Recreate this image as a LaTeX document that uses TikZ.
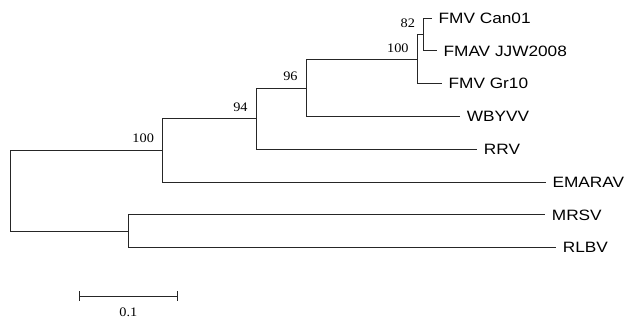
\documentclass[tikz,border=0pt]{standalone}
\usepackage{fontspec}
\setmainfont{Liberation Serif}[FakeStretch=1.1]
\newfontfamily\taxfont{Liberation Sans}[FakeStretch=1.15]
\usetikzlibrary{calc}

\begin{document}
\begin{tikzpicture}[x=1pt,y=-1pt,line width=.8pt,draw=black!85,
  taxon/.style={anchor=base west,inner sep=0pt,xshift=6.5pt,yshift=-5.3pt,
    font=\taxfont\fontsize{15}{15}\selectfont},
  boot/.style={anchor=south east,inner sep=0pt,xshift=-8pt,yshift=6.5pt,
    font=\fontsize{13}{13}\selectfont}]
\useasboundingbox (0,0) rectangle (640,322);
% Coordinates
\coordinate (root) at (10.7,190.5);
\coordinate (n1) at (162.3,150);
\coordinate (n2) at (256,118.3);
\coordinate (n3) at (306,88);
\coordinate (n4) at (417,59.3);
\coordinate (n5) at (423.3,34.4);
\coordinate (n6) at (128.5,231.2);
% Tips
\coordinate (can) at (431.7,18);
\coordinate (jjw) at (436.7,50.8);
\coordinate (gr) at (441.7,83.6);
\coordinate (wby) at (460,116.4);
\coordinate (rrv) at (477,149.2);
\coordinate (ema) at (545.7,182);
\coordinate (mrs) at (545,214.8);
\coordinate (rlb) at (556,247.6);
% Draw tree
\draw (root) |- (n1) node[boot] {100};
\draw (root) |- (n6);
\draw (n1) |- (n2) node[boot] {94};
\draw (n1) |- (ema) node[taxon] {EMARAV};
\draw (n2) |- (n3) node[boot] {96};
\draw (n2) |- (rrv) node[taxon] {RRV};
\draw (n3) |- (n4) node[boot] {100};
\draw (n3) |- (wby) node[taxon] {WBYVV};
\draw (n4) |- (n5) node[boot] {82};
\draw (n4) |- (gr) node[taxon] {FMV Gr10};
\draw (n5) |- (can) node[taxon] {FMV Can01};
\draw (n5) |- (jjw) node[taxon] {FMAV JJW2008};
\draw (n6) |- (mrs) node[taxon] {MRSV};
\draw (n6) |- (rlb) node[taxon] {RLBV};
% Scale bar
\coordinate (sa) at (79,296);
\coordinate (sb) at (177.7,296);
\draw (sa) -- node[yshift=-16.7pt,font=\fontsize{13}{13}\selectfont] {0.1} (sb);
\draw ($(sa)+(0,-5)$) -- ($(sa)+(0,5)$);
\draw ($(sb)+(0,-5)$) -- ($(sb)+(0,5)$);
\end{tikzpicture}
\end{document}
